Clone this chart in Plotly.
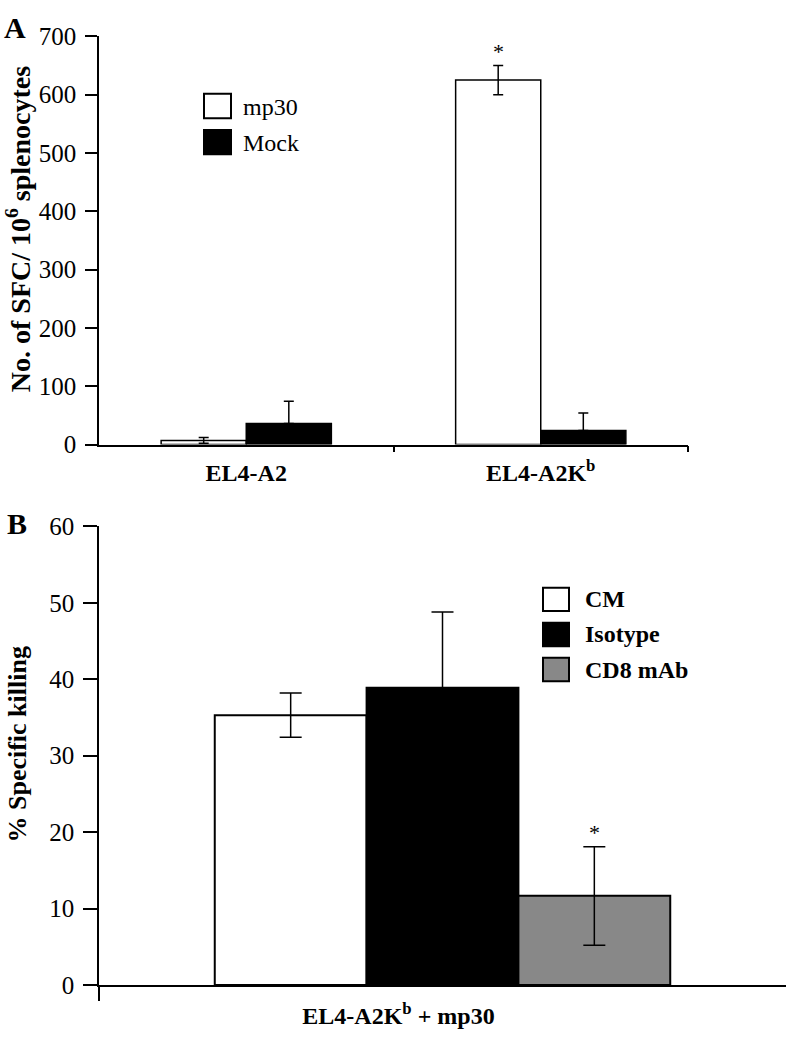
import numpy as np
import plotly.graph_objects as go

# ---------------- Panel A data ----------------
a_categories = ["EL4-A2", "EL4-A2K<sup>b</sup>"]
a_series = ["mp30", "Mock"]
a_mp30 = [7, 625]
a_mp30_err = [5, 25]
a_mock = [36, 24]
a_mock_err = [38, 30]
a_yticks = [0, 100, 200, 300, 400, 500, 600, 700]

# ---------------- Panel B data ----------------
b_category = ["EL4-A2K<sup>b</sup> + mp30"]
b_series = ["CM", "Isotype", "CD8 mAb"]
b_values = [35.3, 38.9, 11.7]
b_err_plus = [2.9, 9.9, 6.4]
b_err_minus = [2.9, 0.0, 6.5]
b_yticks = [0, 10, 20, 30, 40, 50, 60]

# ---------------- styling ----------------
W, H = 786, 1041
FONT = "Liberation Serif, Times New Roman, serif"
a_colors = ["white", "black"]
b_colors = ["white", "black", "#888888"]
wA = 0.289   # bar width in category units (panel A)
wB = 0.221   # bar width in category units (panel B)


def px(x):
    return x / W


def py(y):
    return 1 - y / H


fig = go.Figure()

# Panel A bars
a_idx = np.arange(len(a_categories))
a_vals = [a_mp30, a_mock]
a_errs = [a_mp30_err, a_mock_err]
a_minus = [a_mp30_err, [0] * len(a_mock)]
for k, name in enumerate(a_series):
    off = (k - (len(a_series) - 1) / 2) * wA
    fig.add_trace(go.Bar(
        x=a_idx + off, y=a_vals[k], width=wA, name=name,
        marker=dict(color=a_colors[k], line=dict(color="black", width=1.5)),
        error_y=dict(type="data", symmetric=False, array=a_errs[k],
                     arrayminus=a_minus[k], color="black", thickness=1.5, width=5),
        xaxis="x", yaxis="y", showlegend=False,
    ))

# Panel B bars
for k, name in enumerate(b_series):
    off = (k - (len(b_series) - 1) / 2) * wB
    fig.add_trace(go.Bar(
        x=[0 + off], y=[b_values[k]], width=wB, name=name,
        marker=dict(color=b_colors[k], line=dict(color="black", width=2)),
        error_y=dict(type="data", symmetric=False, array=[b_err_plus[k]],
                     arrayminus=[b_err_minus[k]], color="black", thickness=1.5, width=11),
        xaxis="x2", yaxis="y2", showlegend=False,
    ))

axis_common = dict(showline=True, linecolor="black", linewidth=1.5, showgrid=False,
                   zeroline=False, fixedrange=True)
tickfont_y = dict(family=FONT, size=25, color="black")
tickfont_x = dict(family=FONT, size=24, color="black")

fig.update_layout(
    width=W, height=H, margin=dict(l=0, r=0, t=0, b=0),
    paper_bgcolor="white", plot_bgcolor="white", barmode="overlay",
    font=dict(family=FONT, color="black"),
    showlegend=False,
    xaxis=dict(domain=[px(99), px(688)], range=[-0.5, 1.5], anchor="y",
               tickmode="array", tickvals=list(a_idx),
               ticktext=["<b>%s</b>" % c for c in a_categories], ticks="",
               ticklabelstandoff=6, tickfont=tickfont_x,
               minor=dict(tickmode="array", tickvals=[0.5, 1.5], ticks="outside",
                          ticklen=6, tickwidth=1.5, tickcolor="black"),
               **axis_common),
    yaxis=dict(domain=[py(443), py(24)], range=[0, 700], anchor="x",
               tickmode="array", tickvals=a_yticks, ticks="outside", ticklen=12,
               tickwidth=1.5, tickcolor="black", ticklabelstandoff=4,
               tickfont=tickfont_y, **axis_common),
    xaxis2=dict(domain=[px(99), 1.0], range=[-0.5, 0.5], anchor="y2",
                tickmode="array", tickvals=[0],
                ticktext=["<b>%s</b>" % c for c in b_category], ticks="",
                ticklabelstandoff=8, ticklabelshift=-44, tickfont=tickfont_x,
                minor=dict(tickmode="array", tickvals=[-0.5], ticks="outside",
                           ticklen=14, tickwidth=1.5, tickcolor="black"),
                **axis_common),
    yaxis2=dict(domain=[py(998), py(527)], range=[0, 60], anchor="x2",
                tickmode="array", tickvals=b_yticks, ticks="outside", ticklen=14,
                tickwidth=1.5, tickcolor="black", ticklabelstandoff=4,
                tickfont=tickfont_y, **axis_common),
)

ann = []
shapes = []
# Panel letters
ann.append(dict(text="<b>A</b>", x=px(15), y=py(15), xref="paper", yref="paper",
                showarrow=False, font=dict(size=30, family=FONT), xanchor="center", yanchor="middle"))
ann.append(dict(text="<b>B</b>", x=px(17), y=py(524), xref="paper", yref="paper",
                showarrow=False, font=dict(size=30, family=FONT), xanchor="center", yanchor="middle"))
# Y-axis titles
ann.append(dict(text="<b>No. of SFC/ 10<sup>6</sup> splenocytes</b>", x=px(18), y=py(222),
                xref="paper", yref="paper", showarrow=False, textangle=-90,
                font=dict(size=28, family=FONT), xanchor="center", yanchor="middle"))
ann.append(dict(text="<b>% Specific killing</b>", x=px(18), y=py(751),
                xref="paper", yref="paper", showarrow=False, textangle=-90,
                font=dict(size=26, family=FONT), xanchor="center", yanchor="middle"))

# Legend A
for k, name in enumerate(a_series):
    top = 83 + k * 37
    shapes.append(dict(type="rect", xref="paper", yref="paper",
                       x0=px(204), x1=px(231), y0=py(top + 25), y1=py(top),
                       line=dict(color="black", width=2), fillcolor=a_colors[k]))
    ann.append(dict(text=name, x=px(241), y=py(top + 13), xref="paper", yref="paper",
                    showarrow=False, font=dict(size=24, family=FONT),
                    xanchor="left", yanchor="middle"))
# Legend B
for k, name in enumerate(b_series):
    top = 590 + k * 36
    shapes.append(dict(type="rect", xref="paper", yref="paper",
                       x0=px(543), x1=px(569), y0=py(top + 24), y1=py(top),
                       line=dict(color="black", width=2), fillcolor=b_colors[k]))
    ann.append(dict(text="<b>%s</b>" % name, x=px(583), y=py(top + 12), xref="paper",
                    yref="paper", showarrow=False, font=dict(size=24, family=FONT),
                    xanchor="left", yanchor="middle"))

# Significance asterisks
ann.append(dict(text="*", x=1 - 0.5 * wA, y=a_mp30[1] + a_mp30_err[1], xref="x", yref="y",
                showarrow=False, font=dict(size=22, family=FONT), yanchor="bottom", yshift=0))
ann.append(dict(text="*", x=(2 - 1) * wB, y=b_values[2] + b_err_plus[2], xref="x2", yref="y2",
                showarrow=False, font=dict(size=22, family=FONT), yanchor="bottom", yshift=0))

fig.update_layout(annotations=ann, shapes=shapes)
fig.write_html("out.html", config={"displayModeBar": False},
               post_script="document.body.style.margin='0';document.body.style.overflow='hidden';")
